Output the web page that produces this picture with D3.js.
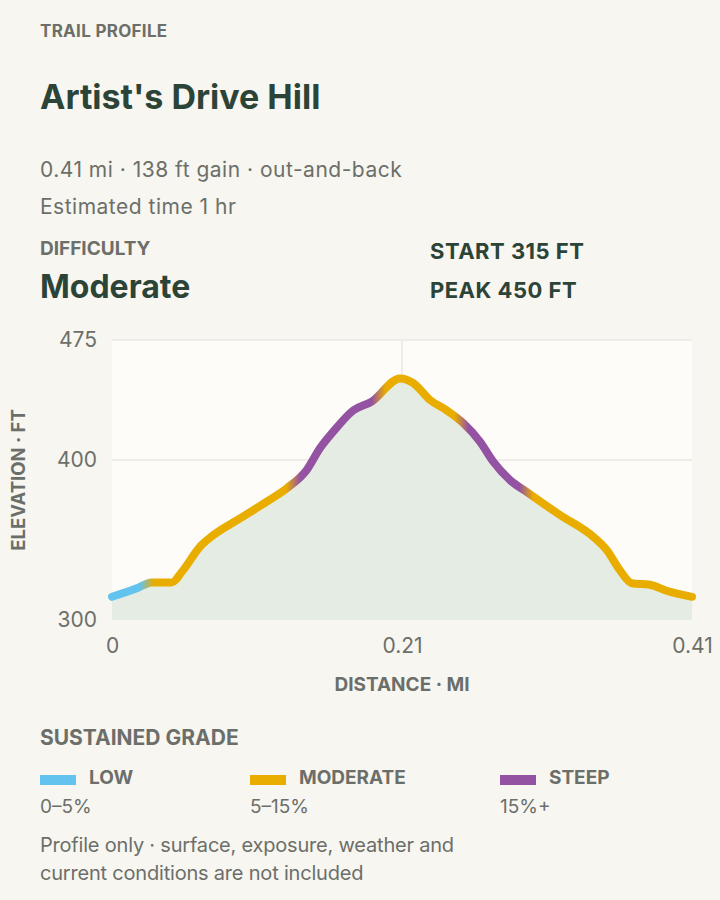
<!DOCTYPE html>
<html>
<head>
<meta charset="utf-8">
<script src="https://cdn.jsdelivr.net/npm/d3@7/dist/d3.min.js"></script>
<style>
  html, body { margin: 0; padding: 0; background: #f7f6f1; }
  svg { display: block; font-family: Inter, "Noto Sans", sans-serif; }
</style>
</head>
<body>
<svg id="chart" width="720" height="900"></svg>
<script>
// trail profile samples
const distanceMi = [0, 0.0175, 0.0281, 0.0422, 0.0493, 0.0622, 0.0716, 0.0905, 0.1094, 0.1235,
  0.1376, 0.147, 0.1564, 0.1706, 0.1836, 0.2036, 0.213, 0.2248, 0.2366, 0.2483,
  0.2601, 0.2695, 0.2813, 0.2932, 0.3167, 0.3402, 0.3497, 0.3591, 0.3674, 0.3803,
  0.392, 0.41];
const elevationFt = [314.5, 319.8, 323.5, 323.5, 330, 345.8, 353, 363.5, 374, 382.3,
  393.7, 407.3, 417.7, 431, 436.5, 451, 448, 437.5, 431, 423,
  411.5, 399, 387.5, 380, 365.6, 352, 343.7, 331, 323, 322,
  318.3, 314.5];

// grade class changes along the trail (mi)
const gradeBreaks = [0.0247, 0.128, 0.1885, 0.247, 0.293];
const gradeClasses = ['low', 'moderate', 'steep', 'moderate', 'steep', 'moderate'];

const gradeKeys = ['low', 'moderate', 'steep'];
const gradeLabels = ['LOW', 'MODERATE', 'STEEP'];
const gradeRanges = ['0–5%', '5–15%', '15%+'];
const gradeColors = ['#62c3ee', '#e9ad00', '#9452a3'];

const yTicks = [300, 400, 475];
const xTicks = [0, 0.205, 0.41];
const xTickLabels = ['0', '0.21', '0.41'];

const eyebrow = 'TRAIL PROFILE';
const trailName = "Artist's Drive Hill";
const statLines = ['0.41 mi · 138 ft gain · out-and-back', 'Estimated time 1 hr'];
const difficulty = 'Moderate';
const elevStats = ['START 315 FT', 'PEAK 450 FT'];
const noteLines = ['Profile only · surface, exposure, weather and', 'current conditions are not included'];

const dark = '#2c4437';
const gray = '#6c6f69';

const svg = d3.select('#chart');
const margin = { left: 112, top: 340, right: 28, bottom: 280 };
const w = 720 - margin.left - margin.right;
const h = 900 - margin.top - margin.bottom;

// header
svg.append('text').attr('x', 40).attr('y', 37)
  .attr('font-size', 17).attr('font-weight', 700).attr('fill', gray)
  .attr('letter-spacing', 0.3)
  .text(eyebrow);
svg.append('text').attr('x', 40).attr('y', 109)
  .attr('font-size', 34).attr('font-weight', 700).attr('fill', dark)
  .text(trailName);
svg.selectAll('.stat')
  .data(statLines)
  .enter()
  .append('text')
  .attr('class', 'stat')
  .attr('x', 40)
  .attr('y', (d, i) => 177 + i * 37)
  .attr('font-size', 21)
  .attr('letter-spacing', 0.5)
  .attr('fill', gray)
  .text(d => d);
svg.append('text').attr('x', 40).attr('y', 255)
  .attr('font-size', 19).attr('font-weight', 700).attr('fill', gray)
  .text('DIFFICULTY');
svg.append('text').attr('x', 40).attr('y', 298)
  .attr('font-size', 32).attr('font-weight', 700).attr('fill', dark)
  .text(difficulty);
svg.selectAll('.elev')
  .data(elevStats)
  .enter()
  .append('text')
  .attr('class', 'elev')
  .attr('x', 430)
  .attr('y', (d, i) => 259 + i * 39)
  .attr('font-size', 22)
  .attr('font-weight', 700)
  .attr('letter-spacing', 0.5)
  .attr('fill', dark)
  .text(d => d);

// chart
const x = d3.scaleLinear().domain([0, 0.41]).range([0, w]);
const y = d3.scaleLinear().domain([300, 475]).range([h, 0]);

const g = svg.append('g').attr('transform', `translate(${margin.left},${margin.top})`);

g.append('rect').attr('width', w).attr('height', h).attr('fill', '#fdfcf9');

g.selectAll('.hgrid')
  .data(yTicks.slice(1))
  .enter()
  .append('line')
  .attr('x1', 0).attr('x2', w)
  .attr('y1', d => y(d)).attr('y2', d => y(d))
  .attr('stroke', '#ebe9e3')
  .attr('stroke-width', 1.5);
g.append('line')
  .attr('x1', x(xTicks[1])).attr('x2', x(xTicks[1]))
  .attr('y1', 0).attr('y2', h)
  .attr('stroke', '#ebe9e3')
  .attr('stroke-width', 1.5);

const points = distanceMi.map((d, i) => ({ d, e: elevationFt[i] }));

g.append('path')
  .datum(points)
  .attr('fill', '#e5ece4')
  .attr('d', d3.area()
    .x(p => x(p.d))
    .y0(h)
    .y1(p => y(p.e))
    .curve(d3.curveMonotoneX));

// gradient along distance, blended at grade changes
const blend = 0.005;
const colorOf = k => gradeColors[gradeKeys.indexOf(k)];
const grad = svg.append('defs').append('linearGradient')
  .attr('id', 'gradeGrad')
  .attr('gradientUnits', 'userSpaceOnUse')
  .attr('x1', 0).attr('x2', w)
  .attr('y1', 0).attr('y2', 0);
const stops = [{ o: 0, c: colorOf(gradeClasses[0]) }];
gradeBreaks.forEach((b, i) => {
  stops.push({ o: (b - blend) / 0.41, c: colorOf(gradeClasses[i]) });
  stops.push({ o: (b + blend) / 0.41, c: colorOf(gradeClasses[i + 1]) });
});
stops.push({ o: 1, c: colorOf(gradeClasses[gradeClasses.length - 1]) });
grad.selectAll('stop')
  .data(stops)
  .enter()
  .append('stop')
  .attr('offset', s => s.o)
  .attr('stop-color', s => s.c);

g.append('path')
  .datum(points)
  .attr('fill', 'none')
  .attr('stroke', 'url(#gradeGrad)')
  .attr('stroke-width', 8)
  .attr('stroke-linecap', 'round')
  .attr('stroke-linejoin', 'round')
  .attr('d', d3.line()
    .x(p => x(p.d))
    .y(p => y(p.e))
    .curve(d3.curveMonotoneX));

// axes
const yAxis = g.append('g')
  .call(d3.axisLeft(y).tickValues(yTicks).tickSize(0).tickPadding(15));
yAxis.select('.domain').remove();
yAxis.selectAll('text').attr('font-size', 21).attr('fill', gray).attr('font-family', 'Inter');

const xAxis = g.append('g')
  .attr('transform', `translate(0,${h})`)
  .call(d3.axisBottom(x).tickValues(xTicks).tickSize(0).tickPadding(18)
    .tickFormat((d, i) => xTickLabels[i]));
xAxis.select('.domain').remove();
xAxis.selectAll('text').attr('font-size', 21).attr('fill', gray).attr('font-family', 'Inter');

svg.append('text')
  .attr('transform', `translate(25,${margin.top + h / 2}) rotate(-90)`)
  .attr('text-anchor', 'middle')
  .attr('font-size', 18.5)
  .attr('font-weight', 700)
  .attr('fill', gray)
  .text('ELEVATION · FT');
svg.append('text')
  .attr('x', margin.left + w / 2)
  .attr('y', 691)
  .attr('text-anchor', 'middle')
  .attr('font-size', 19)
  .attr('font-weight', 700)
  .attr('fill', gray)
  .text('DISTANCE · MI');

// legend
svg.append('text').attr('x', 40).attr('y', 745)
  .attr('font-size', 21).attr('font-weight', 700).attr('fill', gray)
  .text('SUSTAINED GRADE');
const legendX = [40, 250, 500];
const item = svg.selectAll('.legend')
  .data(gradeKeys)
  .enter()
  .append('g')
  .attr('class', 'legend')
  .attr('transform', (d, i) => `translate(${legendX[i]},0)`);
item.append('rect')
  .attr('y', 775).attr('width', 36).attr('height', 10)
  .attr('fill', (d, i) => gradeColors[i]);
item.append('text')
  .attr('x', 49).attr('y', 784)
  .attr('font-size', 19).attr('font-weight', 700).attr('fill', gray)
  .text((d, i) => gradeLabels[i]);
item.append('text')
  .attr('y', 813)
  .attr('font-size', 19).attr('fill', gray)
  .text((d, i) => gradeRanges[i]);

svg.selectAll('.note')
  .data(noteLines)
  .enter()
  .append('text')
  .attr('class', 'note')
  .attr('x', 40)
  .attr('y', (d, i) => 852 + i * 28)
  .attr('font-size', 20)
  .attr('letter-spacing', -0.2)
  .attr('fill', gray)
  .text(d => d);
</script>
</body>
</html>
